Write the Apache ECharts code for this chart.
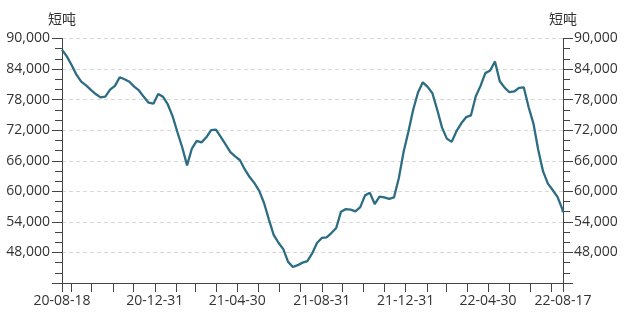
<!DOCTYPE html>
<html>
<head>
<meta charset="utf-8">
<script src="https://cdn.jsdelivr.net/npm/echarts@6/dist/echarts.min.js"></script>
<style>
  html, body { margin: 0; padding: 0; background: #fff; }
  #main { width: 628px; height: 316px; }
</style>
</head>
<body>
<div id="main"></div>
<script>
// weekly readings, short tons
const dates = [
  '2020-08-18', '2020-08-25', '2020-09-01', '2020-09-08', '2020-09-15', '2020-09-22', '2020-09-29',
  '2020-10-06', '2020-10-13', '2020-10-20', '2020-10-27', '2020-11-03', '2020-11-10', '2020-11-17',
  '2020-11-24', '2020-12-01', '2020-12-08', '2020-12-15', '2020-12-22', '2020-12-29', '2021-01-05',
  '2021-01-12', '2021-01-19', '2021-01-26', '2021-02-02', '2021-02-09', '2021-02-16', '2021-02-23',
  '2021-03-02', '2021-03-09', '2021-03-16', '2021-03-23', '2021-03-30', '2021-04-06', '2021-04-13',
  '2021-04-20', '2021-04-27', '2021-05-04', '2021-05-11', '2021-05-18', '2021-05-25', '2021-06-01',
  '2021-06-08', '2021-06-15', '2021-06-22', '2021-06-29', '2021-07-06', '2021-07-13', '2021-07-20',
  '2021-07-27', '2021-08-03', '2021-08-10', '2021-08-17', '2021-08-24', '2021-08-31', '2021-09-07',
  '2021-09-14', '2021-09-21', '2021-09-28', '2021-10-05', '2021-10-12', '2021-10-19', '2021-10-26',
  '2021-11-02', '2021-11-09', '2021-11-16', '2021-11-23', '2021-11-30', '2021-12-07', '2021-12-14',
  '2021-12-21', '2021-12-28', '2022-01-04', '2022-01-11', '2022-01-18', '2022-01-25', '2022-02-01',
  '2022-02-08', '2022-02-15', '2022-02-22', '2022-03-01', '2022-03-08', '2022-03-15', '2022-03-22',
  '2022-03-29', '2022-04-05', '2022-04-12', '2022-04-19', '2022-04-26', '2022-05-03', '2022-05-10',
  '2022-05-17', '2022-05-24', '2022-05-31', '2022-06-07', '2022-06-14', '2022-06-21', '2022-06-28',
  '2022-07-05', '2022-07-12', '2022-07-19', '2022-07-26', '2022-08-02', '2022-08-09', '2022-08-16',
  '2022-08-17'
];
const values = [
  87800, 86500, 84800, 82900, 81550, 80800, 79900,
  79100, 78450, 78600, 79950, 80700, 82400, 82000,
  81500, 80550, 79800, 78550, 77400, 77200, 79100,
  78550, 77050, 74700, 71600, 68600, 65100, 68400,
  69900, 69600, 70600, 72000, 72100, 70700, 69200,
  67700, 66850, 66100, 64300, 62800, 61600, 60100,
  57700, 54500, 51450, 49900, 48650, 46150, 45150,
  45500, 46000, 46300, 47800, 49850, 50850, 50950,
  51800, 52800, 56000, 56500, 56400, 56050, 56900,
  59200, 59700, 57500, 58950, 58800, 58500, 58800,
  62500, 67700, 71700, 76000, 79400, 81400, 80500,
  79250, 76000, 72500, 70350, 69700, 71800, 73350,
  74550, 74900, 78600, 80700, 83200, 83700, 85500,
  81600, 80350, 79450, 79600, 80300, 80400, 76500,
  73300, 68100, 63900, 61500, 60250, 58900, 56500,
  55900
];
const xLabelDates = ['2020-08-18', '2020-12-31', '2021-04-30', '2021-08-31', '2021-12-31', '2022-04-30', '2022-08-17'];
const xTickDates = [
  '2020-08-18', '2020-08-31', '2020-09-30', '2020-10-31', '2020-11-30', '2020-12-31',
  '2021-01-31', '2021-02-28', '2021-03-31', '2021-04-30', '2021-05-31', '2021-06-30',
  '2021-07-31', '2021-08-31', '2021-09-30', '2021-10-31', '2021-11-30', '2021-12-31',
  '2022-01-31', '2022-02-28', '2022-03-31', '2022-04-30', '2022-05-31', '2022-06-30',
  '2022-07-31', '2022-08-17'
];
const unitName = '短吨';

const textColor = '#333';
const axisColor = '#444';
const font = 'Open Sans, Noto Sans CJK SC, sans-serif';

function toTime(s) {
  const p = s.split('-');
  return new Date(+p[0], +p[1] - 1, +p[2]).getTime();
}
function pad(n) { return n < 10 ? '0' + n : '' + n; }
function fmtDate(v) {
  const d = new Date(v);
  return pad(d.getFullYear() % 100) + '-' + pad(d.getMonth() + 1) + '-' + pad(d.getDate());
}

function yAxisCfg(pos) {
  return {
    type: 'value',
    position: pos,
    min: 42000,
    max: 90000,
    interval: 6000,
    name: unitName,
    nameLocation: 'end',
    nameGap: 11,
    nameTextStyle: { color: textColor, fontSize: 14, fontFamily: font },
    axisLine: { show: true, lineStyle: { color: axisColor, width: 1 } },
    axisTick: { show: true, length: 10, lineStyle: { color: axisColor } },
    minorTick: { show: true, splitNumber: 3, length: 7, lineStyle: { color: axisColor } },
    axisLabel: {
      showMinLabel: false,
      margin: pos === 'left' ? 12 : 11,
      color: textColor,
      fontSize: 14,
      fontFamily: font
    },
    splitLine: {
      show: pos === 'left',
      lineStyle: { color: '#d9d9d9', type: [4, 3] }
    }
  };
}

const chart = echarts.init(document.getElementById('main'));
chart.setOption({
  animation: false,
  backgroundColor: '#fff',
  grid: { left: 62, right: 65, top: 38.5, bottom: 33 },
  xAxis: {
    type: 'value',
    min: toTime(dates[0]),
    max: toTime(dates[dates.length - 1]),
    axisLine: { lineStyle: { color: axisColor, width: 1 } },
    axisTick: { show: true, length: 9, customValues: xTickDates.map(toTime), lineStyle: { color: axisColor } },
    axisLabel: {
      customValues: xLabelDates.map(toTime),
      formatter: function (v) { return fmtDate(v); },
      margin: 11,
      color: textColor,
      fontSize: 14,
      fontFamily: font
    },
    splitLine: { show: false }
  },
  yAxis: [yAxisCfg('left'), yAxisCfg('right')],
  series: [
    {
      type: 'line',
      yAxisIndex: 0,
      showSymbol: false,
      data: dates.map(function (d, i) { return [toTime(d), values[i]]; }),
      lineStyle: { color: '#2c6d84', width: 2.3 },
      itemStyle: { color: '#2c6d84' }
    }
  ]
});
</script>
</body>
</html>
